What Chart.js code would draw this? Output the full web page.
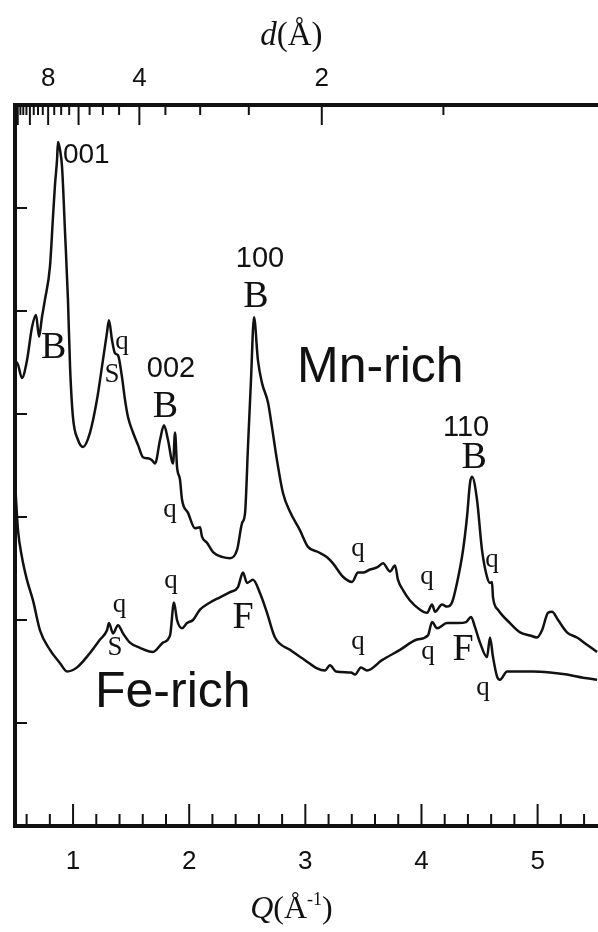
<!DOCTYPE html>
<html>
<head>
<meta charset="utf-8">
<script src="https://cdn.jsdelivr.net/npm/chart.js@4.4.1/dist/chart.umd.min.js"></script>
<style>
  body { margin: 0; background: #fff; }
  #wrap { width: 598px; height: 932px; }
</style>
</head>
<body>
<div id="wrap"><canvas id="xrd"></canvas></div>
<script>
// Mn-rich pattern (Q in 1/Å, intensity in arbitrary units, offset)
const qMn = [0.50, 0.517, 0.56, 0.603, 0.646, 0.681, 0.707, 0.732, 0.758, 0.801, 0.827, 0.844, 0.862, 0.870, 0.888, 0.905, 0.931, 0.956, 0.974, 0.999,
  1.042, 1.086, 1.146, 1.206, 1.249, 1.292, 1.309, 1.335, 1.361, 1.387, 1.421, 1.447, 1.473, 1.516, 1.559, 1.602, 1.645, 1.680, 1.706, 1.749,
  1.783, 1.817, 1.861, 1.878, 1.895, 1.921, 1.938, 1.990, 2.050, 2.093, 2.110, 2.153, 2.205, 2.291, 2.351, 2.412, 2.455, 2.481, 2.506, 2.532,
  2.558, 2.592, 2.627, 2.679, 2.713, 2.756, 2.808, 2.868, 2.954, 3.023, 3.109, 3.187, 3.238, 3.324, 3.402, 3.454, 3.497, 3.557, 3.617, 3.669,
  3.729, 3.772, 3.798, 3.841, 3.901, 3.988, 4.048, 4.091, 4.117, 4.177, 4.220, 4.263, 4.306, 4.358, 4.392, 4.418, 4.435, 4.478, 4.521, 4.564,
  4.590, 4.607, 4.616, 4.659, 4.762, 4.849, 4.935, 4.995, 5.038, 5.090, 5.124, 5.176, 5.253, 5.339, 5.425, 5.512];
const iMn = [4.43, 4.50, 4.35, 4.52, 4.84, 4.96, 4.75, 4.94, 5.11, 5.43, 5.91, 6.22, 6.47, 6.64, 6.56, 6.40, 5.76, 5.11, 4.46, 3.97,
  3.75, 3.68, 3.82, 4.14, 4.46, 4.79, 4.91, 4.72, 4.59, 4.57, 4.36, 4.14, 3.97, 3.82, 3.70, 3.58, 3.57, 3.55, 3.52, 3.75,
  3.89, 3.75, 3.52, 3.82, 3.49, 3.36, 3.17, 3.04, 2.89, 2.90, 2.81, 2.75, 2.66, 2.61, 2.60, 2.68, 2.94, 3.04, 3.68, 4.33,
  4.94, 4.52, 4.30, 4.11, 3.87, 3.55, 3.23, 3.05, 2.87, 2.71, 2.66, 2.61, 2.55, 2.42, 2.37, 2.46, 2.46, 2.49, 2.51, 2.55,
  2.47, 2.53, 2.39, 2.29, 2.19, 2.10, 2.07, 2.15, 2.08, 2.15, 2.13, 2.17, 2.36, 2.68, 3.00, 3.33, 3.39, 3.17, 2.68, 2.42,
  2.36, 2.37, 2.22, 2.10, 1.97, 1.88, 1.85, 1.83, 1.90, 2.07, 2.08, 2.00, 1.88, 1.83, 1.76, 1.69];

// Fe-rich pattern
const qFe = [0.50, 0.509, 0.526, 0.56, 0.603, 0.655, 0.715, 0.801, 0.888, 0.948, 1.034, 1.146, 1.232, 1.292, 1.309, 1.344, 1.387, 1.430, 1.490, 1.576,
  1.688, 1.774, 1.835, 1.869, 1.895, 1.938, 1.981, 2.033, 2.093, 2.179, 2.265, 2.351, 2.420, 2.463, 2.498, 2.549, 2.610, 2.670, 2.739, 2.868,
  2.997, 3.101, 3.169, 3.212, 3.264, 3.393, 3.428, 3.479, 3.531, 3.660, 3.815, 3.962, 4.056, 4.091, 4.134, 4.220, 4.315, 4.384, 4.427, 4.461,
  4.504, 4.564, 4.590, 4.616, 4.651, 4.676, 4.737, 4.849, 4.961, 5.107, 5.253, 5.391, 5.512];
const iFe = [3.36, 3.17, 2.87, 2.61, 2.39, 2.19, 1.90, 1.71, 1.58, 1.50, 1.54, 1.68, 1.81, 1.90, 1.97, 1.87, 1.95, 1.87, 1.78, 1.73,
  1.69, 1.78, 1.85, 2.17, 2.00, 1.92, 1.97, 2.00, 2.10, 2.17, 2.22, 2.27, 2.32, 2.46, 2.36, 2.39, 2.26, 2.07, 1.83, 1.71,
  1.61, 1.53, 1.51, 1.56, 1.50, 1.49, 1.47, 1.54, 1.51, 1.61, 1.71, 1.81, 1.85, 1.98, 1.92, 1.97, 1.97, 1.98, 2.03, 1.93,
  1.78, 1.64, 1.83, 1.64, 1.45, 1.42, 1.50, 1.50, 1.50, 1.49, 1.47, 1.44, 1.42];

// tick labels
const qLabels = [1, 2, 3, 4, 5];
const dLabels = [8, 4, 2];

const serif = 'Liberation Serif';
const sans = 'Liberation Sans';

// peak annotations: text, Q, intensity of baseline
const notes = [
  { t: '001', q: 0.913, v: 6.437, font: '28px ' + sans, align: 'left' },
  { t: 'B', q: 0.832, v: 4.544, font: '38px ' + serif },
  { t: 'S', q: 1.335, v: 4.311, font: '27px ' + serif },
  { t: 'q', q: 1.421, v: 4.631, font: '27px ' + serif },
  { t: '002', q: 1.843, v: 4.359, font: '29px ' + sans },
  { t: 'B', q: 1.796, v: 3.971, font: '38px ' + serif },
  { t: 'q', q: 1.835, v: 3.000, font: '27px ' + serif },
  { t: '100', q: 2.610, v: 5.427, font: '29px ' + sans },
  { t: 'B', q: 2.575, v: 5.039, font: '38px ' + serif },
  { t: 'Mn-rich', q: 2.928, v: 4.311, font: '50px ' + sans, align: 'left' },
  { t: '110', q: 4.384, v: 3.786, font: '29px ' + sans },
  { t: 'B', q: 4.453, v: 3.476, font: '38px ' + serif },
  { t: 'q', q: 3.454, v: 2.621, font: '27px ' + serif },
  { t: 'q', q: 4.048, v: 2.350, font: '27px ' + serif },
  { t: 'q', q: 4.607, v: 2.515, font: '27px ' + serif },
  { t: 'q', q: 1.400, v: 2.073, font: '27px ' + serif },
  { t: 'S', q: 1.361, v: 1.660, font: '27px ' + serif },
  { t: 'q', q: 1.843, v: 2.311, font: '27px ' + serif },
  { t: 'F', q: 2.463, v: 1.922, font: '38px ' + serif },
  { t: 'q', q: 3.454, v: 1.718, font: '27px ' + serif },
  { t: 'q', q: 4.056, v: 1.621, font: '27px ' + serif },
  { t: 'F', q: 4.358, v: 1.612, font: '38px ' + serif },
  { t: 'q', q: 4.530, v: 1.272, font: '27px ' + serif },
  { t: 'Fe-rich', q: 1.189, v: 1.155, font: '50px ' + sans, align: 'left' }
];

const ink = '#111';

function drawParts(ctx, parts, cx, y) {
  let w = 0;
  parts.forEach(p => { ctx.font = p.f; w += ctx.measureText(p.t).width; });
  let x = cx - w / 2;
  parts.forEach(p => {
    ctx.font = p.f;
    ctx.fillText(p.t, x, y + (p.dy || 0));
    x += ctx.measureText(p.t).width;
  });
}

const axisExtras = {
  id: 'axisExtras',
  afterDatasetsDraw(chart) {
    const { ctx, chartArea: a, scales } = chart;
    const line = (x1, y1, x2, y2) => { ctx.beginPath(); ctx.moveTo(x1, y1); ctx.lineTo(x2, y2); ctx.stroke(); };
    ctx.save();
    ctx.strokeStyle = ink;
    ctx.lineWidth = 2;

    // bottom ticks, every 0.2
    for (let k = 3; k <= 27; k++) {
      const x = scales.x.getPixelForValue(k / 5);
      line(x, a.bottom, x, a.bottom - (k % 5 === 0 ? 22 : 12));
    }
    // left ticks
    for (let k = 1; k < 7; k++) {
      const y = scales.y.getPixelForValue(k);
      line(a.left, y, a.left + 12, y);
    }
    // top ticks in d, every 0.5 Å
    for (let k = 3; k <= 24; k++) {
      const x = scales.x2.getPixelForValue(2 * Math.PI / (k / 2));
      if (x <= a.left + 1) continue;
      line(x, a.top, x, a.top + (k % 4 === 0 ? 20 : 10));
    }

    // annotations
    ctx.fillStyle = ink;
    ctx.textBaseline = 'alphabetic';
    notes.forEach(n => {
      ctx.font = n.font;
      ctx.textAlign = n.align || 'center';
      ctx.fillText(n.t, scales.x.getPixelForValue(n.q), scales.y.getPixelForValue(n.v));
    });

    // axis titles
    ctx.textAlign = 'left';
    const cx = scales.x.getPixelForValue(2.88);
    drawParts(ctx, [
      { t: 'd', f: 'italic 33px ' + serif },
      { t: '(Å)', f: '33px ' + serif }
    ], cx, 45);
    drawParts(ctx, [
      { t: 'Q', f: 'italic 32px ' + serif },
      { t: '(Å', f: '32px ' + serif },
      { t: '-1', f: '18px ' + serif, dy: -13 },
      { t: ')', f: '32px ' + serif }
    ], cx, 918);
    ctx.restore();
  }
};

const ctx = document.getElementById('xrd').getContext('2d');
new Chart(ctx, {
  type: 'line',
  data: {
    datasets: [
      {
        label: 'Mn-rich',
        data: qMn.map((q, i) => ({ x: q, y: iMn[i] })),
        borderColor: ink,
        borderWidth: 2.5,
        pointRadius: 0,
        cubicInterpolationMode: 'monotone'
      },
      {
        label: 'Fe-rich',
        data: qFe.map((q, i) => ({ x: q, y: iFe[i] })),
        borderColor: ink,
        borderWidth: 2.5,
        pointRadius: 0,
        cubicInterpolationMode: 'monotone'
      }
    ]
  },
  options: {
    responsive: true,
    maintainAspectRatio: false,
    animation: false,
    layout: { padding: 0 },
    plugins: { legend: { display: false }, tooltip: { enabled: false } },
    scales: {
      x: {
        type: 'linear',
        position: 'bottom',
        min: 0.5,
        max: 5.52,
        afterBuildTicks: s => { s.ticks = qLabels.map(v => ({ value: v })); },
        afterFit: s => { s.height = 106; },
        grid: { display: false, drawTicks: false },
        border: { display: true, color: ink, width: 4 },
        ticks: { color: ink, padding: 20, maxRotation: 0, font: { family: sans, size: 26 } }
      },
      x2: {
        type: 'linear',
        position: 'top',
        min: 0.5,
        max: 5.52,
        afterBuildTicks: s => { s.ticks = dLabels.map(d => ({ value: 2 * Math.PI / d })); },
        afterFit: s => { s.height = 105; },
        grid: { display: false, drawTicks: false },
        border: { display: true, color: ink, width: 4 },
        ticks: {
          color: ink, padding: 11, maxRotation: 0, font: { family: sans, size: 26 },
          callback: v => String(Math.round(2 * Math.PI / v))
        }
      },
      y: {
        type: 'linear',
        min: 0,
        max: 7,
        afterFit: s => { s.width = 15; },
        grid: { display: false, drawTicks: false },
        border: { display: true, color: ink, width: 4 },
        ticks: { display: false }
      }
    }
  },
  plugins: [axisExtras]
});
</script>
</body>
</html>
